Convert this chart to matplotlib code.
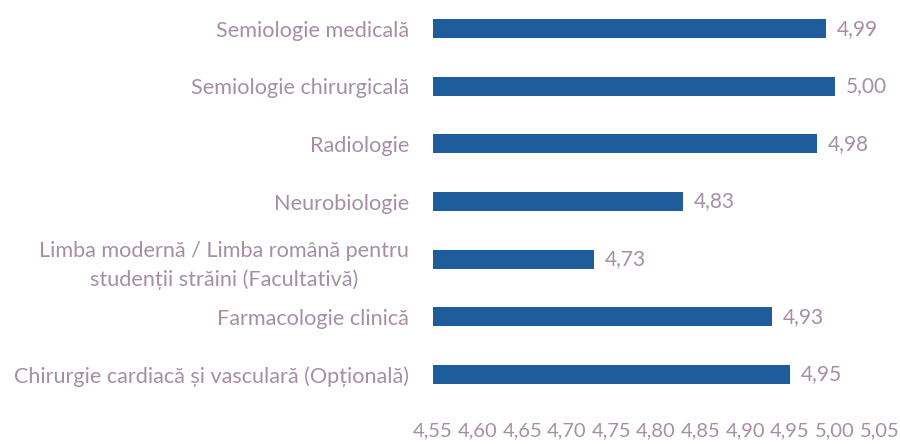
import matplotlib
matplotlib.use("Agg")
import matplotlib.pyplot as plt
from matplotlib.ticker import FuncFormatter

categories = [
    "Semiologie medicală",
    "Semiologie chirurgicală",
    "Radiologie",
    "Neurobiologie",
    "Limba modernă / Limba română pentru\nstudenții străini (Facultativă)",
    "Farmacologie clinică",
    "Chirurgie cardiacă și vasculară (Opțională)",
]
scores = [4.99, 5.00, 4.98, 4.83, 4.73, 4.93, 4.95]
ticks = [4.55, 4.60, 4.65, 4.70, 4.75, 4.80, 4.85, 4.90, 4.95, 5.00, 5.05]

bar_color = "#1f5c9c"
text_color = "#a68fa6"

plt.rcParams["font.family"] = ["Lato", "DejaVu Sans"]

fig = plt.figure(figsize=(9, 4.44), dpi=100)
ax = fig.add_axes([0.481, 0.092, 0.496, 0.908])

y = list(range(len(categories)))
ax.barh(y, [s - ticks[0] for s in scores], left=ticks[0], height=0.33, color=bar_color)

for yi, s in zip(y, scores):
    ax.text(s + 0.012, yi, f"{s:.2f}".replace(".", ","), va="center", ha="left",
            fontsize=15, color=text_color)

ax.set_xlim(ticks[0], ticks[-1])
ax.set_ylim(len(categories) - 0.5, -0.5)
ax.set_yticks(y)
ax.set_yticklabels(categories, ha="right", multialignment="center", linespacing=1.5)
ax.set_xticks(ticks)
ax.xaxis.set_major_formatter(FuncFormatter(lambda v, p: f"{v:.2f}".replace(".", ",")))

ax.tick_params(axis="y", length=0, pad=17, labelsize=15.6, labelcolor=text_color)
ax.tick_params(axis="x", length=0, pad=14, labelsize=14.5, labelcolor=text_color)
for sp in ax.spines.values():
    sp.set_visible(False)

fig.savefig("out.png", dpi=100)
